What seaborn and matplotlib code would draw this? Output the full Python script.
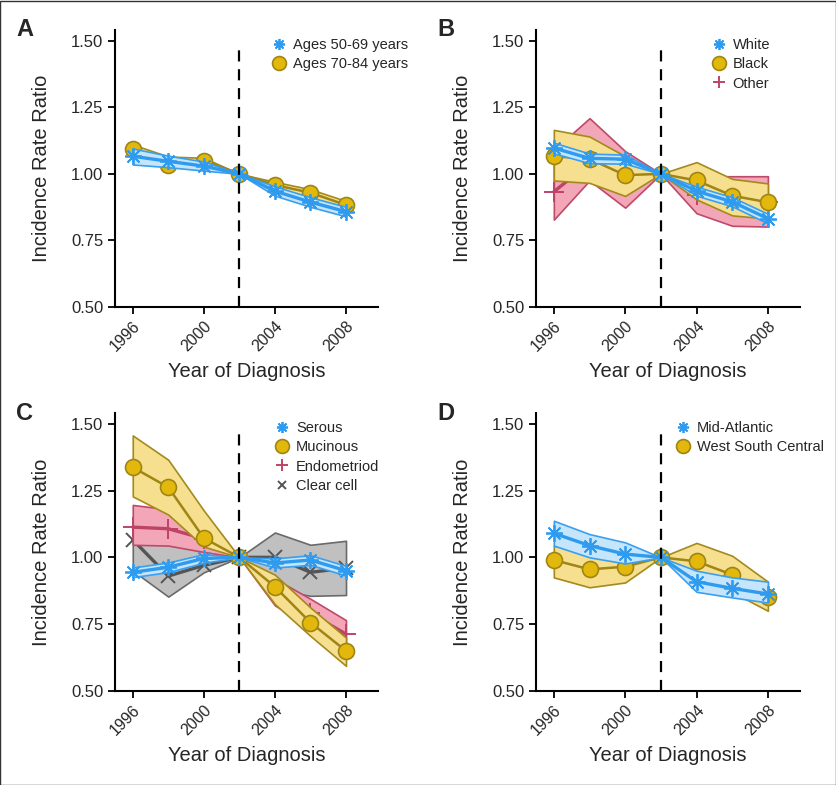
import matplotlib
matplotlib.use("Agg")
import matplotlib.pyplot as plt
from matplotlib.lines import Line2D
from matplotlib.patches import Rectangle
import seaborn as sns
import pandas as pd

# ---------------- data ----------------
years = [1996, 1998, 2000, 2002, 2004, 2006, 2008]
xticks = [1996, 2000, 2004, 2008]
yticks = [0.50, 0.75, 1.00, 1.25, 1.50]

# Panel A
age50_mean = [1.066, 1.047, 1.029, 1.0, 0.935, 0.894, 0.858]
age50_lo = [1.035, 1.025, 1.012, 1.0, 0.918, 0.876, 0.840]
age50_hi = [1.095, 1.068, 1.046, 1.0, 0.953, 0.912, 0.876]
age70_mean = [1.095, 1.035, 1.050, 1.0, 0.958, 0.929, 0.883]
age70_lo = [1.075, 1.025, 1.035, 1.0, 0.945, 0.912, 0.865]
age70_hi = [1.110, 1.065, 1.060, 1.0, 0.970, 0.942, 0.898]

# Panel B
white_mean = [1.097, 1.058, 1.055, 1.0, 0.935, 0.895, 0.832]
white_lo = [1.077, 1.040, 1.038, 1.0, 0.918, 0.878, 0.814]
white_hi = [1.117, 1.076, 1.072, 1.0, 0.952, 0.912, 0.850]
black_mean = [1.066, 1.056, 0.995, 1.0, 0.975, 0.918, 0.893]
black_lo = [0.975, 0.966, 0.917, 1.0, 0.904, 0.844, 0.832]
black_hi = [1.165, 1.140, 1.066, 1.0, 1.044, 0.981, 0.964]
other_mean = [0.933, 1.040, 0.975, 1.0, 0.920, 0.895, 0.895]
other_lo = [0.828, 0.975, 0.873, 1.0, 0.852, 0.805, 0.802]
other_hi = [1.090, 1.209, 1.085, 1.0, 0.990, 0.991, 0.991]

# Panel C
serous_mean = [0.944, 0.963, 0.996, 1.0, 0.979, 0.990, 0.950]
serous_lo = [0.926, 0.945, 0.980, 1.0, 0.962, 0.972, 0.932]
serous_hi = [0.962, 0.981, 1.012, 1.0, 0.996, 1.008, 0.968]
mucinous_mean = [1.337, 1.262, 1.072, 1.0, 0.890, 0.756, 0.650]
mucinous_lo = [1.228, 1.160, 1.040, 1.0, 0.825, 0.706, 0.594]
mucinous_hi = [1.456, 1.365, 1.175, 1.0, 0.935, 0.812, 0.700]
endo_mean = [1.113, 1.107, 1.070, 1.0, 0.870, 0.790, 0.713]
endo_lo = [1.047, 1.044, 1.020, 1.0, 0.820, 0.740, 0.660]
endo_hi = [1.196, 1.180, 1.130, 1.0, 0.920, 0.845, 0.765]
clear_mean = [1.066, 0.930, 0.970, 1.0, 1.000, 0.944, 0.960]
clear_lo = [0.950, 0.853, 0.944, 1.0, 0.880, 0.856, 0.859]
clear_hi = [1.140, 1.100, 1.040, 1.0, 1.093, 1.047, 1.062]

# Panel D
mid_mean = [1.090, 1.044, 1.012, 1.0, 0.909, 0.884, 0.863]
mid_lo = [1.044, 1.000, 0.977, 1.0, 0.871, 0.850, 0.831]
mid_hi = [1.137, 1.087, 1.056, 1.0, 0.950, 0.925, 0.909]
wsc_mean = [0.990, 0.955, 0.965, 1.0, 0.985, 0.935, 0.850]
wsc_lo = [0.925, 0.888, 0.906, 1.0, 0.930, 0.870, 0.800]
wsc_hi = [1.044, 1.020, 1.010, 1.0, 1.054, 1.006, 0.909]

# ---------------- styles ----------------
STY = {
    "blue": dict(line="#2F9BEF", fill="#C4E5FB", edge="#3A9FEF", marker=(8, 2, 0),
                 ms=12, mfc="#2F9BEF", mec="#2F9BEF", lw=2.4, mew=1.3),
    "gold": dict(line="#A08414", fill="#F6E08F", edge="#A48A1C", marker="o",
                 ms=11.5, mfc="#E2B80C", mec="#A08414", lw=1.8, mew=1.2),
    "pink": dict(line="#BE4466", fill="#F2A6B8", edge="#BE4A68", marker="+",
                 ms=14, mfc="#BE4466", mec="#BE4466", lw=2.4, mew=1.4),
    "gray": dict(line="#555555", fill="#C0C0C0", edge="#6A6A6A", marker="x",
                 ms=10, mfc="#555555", mec="#555555", lw=2.4, mew=1.4),
}
LEG_MS = {"blue": 8, "gold": 10, "pink": 9, "gray": 6}

sns.set_style("ticks")
plt.rcParams["font.family"] = ["Liberation Sans", "DejaVu Sans"]

fig = plt.figure(figsize=(8.37, 7.85), dpi=100)
W, H = 837.0, 785.0


def add_axes(left, top, right, bottom):
    return fig.add_axes([left / W, 1 - bottom / H, (right - left) / W, (bottom - top) / H])


axA = add_axes(115, 30, 378, 307)
axB = add_axes(536, 30, 800, 307)
axC = add_axes(115, 413, 378, 691)
axD = add_axes(536, 413, 800, 691)


def series(ax, mean, lo, hi, key, z):
    s = STY[key]
    ax.fill_between(years, lo, hi, facecolor=s["fill"], edgecolor=s["edge"],
                    linewidth=1.2, zorder=z)
    df = pd.DataFrame({"year": years, "irr": mean})
    sns.lineplot(data=df, x="year", y="irr", ax=ax, color=s["line"], lw=s["lw"],
                 marker=s["marker"], markersize=s["ms"], markerfacecolor=s["mfc"],
                 markeredgecolor=s["mec"], markeredgewidth=s["mew"], zorder=z + 0.5)


def style_axes(ax, letter, entries, leg_x):
    ax.set_xlim(1995, 2009.8)
    ax.set_ylim(0.5, 1.54)
    ax.axvline(2002, ymin=0, ymax=(1.466 - 0.5) / 1.04, color="black", lw=1.6,
               ls=(0, (5, 3.5)), zorder=20)
    ax.set_xticks(xticks)
    ax.set_xticklabels([str(t) for t in xticks], rotation=45, ha="right",
                       rotation_mode="anchor", fontsize=11.5)
    ax.set_yticks(yticks)
    ax.set_yticklabels([f"{t:.2f}" for t in yticks], fontsize=12)
    ax.tick_params(axis="both", direction="out", length=5, width=1.3, color="black")
    ax.tick_params(axis="x", pad=3)
    for sp in ("top", "right"):
        ax.spines[sp].set_visible(False)
    for sp in ("left", "bottom"):
        ax.spines[sp].set_linewidth(1.5)
        ax.spines[sp].set_color("black")
    ax.set_xlabel("Year of Diagnosis", fontsize=14.5, labelpad=6)
    ax.set_ylabel("Incidence Rate Ratio", fontsize=14.5, labelpad=14)
    ax.text(-0.375, 1.0, letter, transform=ax.transAxes, fontsize=17,
            fontweight="bold", ha="left", va="center")
    handles = []
    for label, key in entries:
        s = STY[key]
        handles.append(Line2D([], [], ls="none", marker=s["marker"], markersize=LEG_MS[key],
                              markerfacecolor=s["mfc"], markeredgecolor=s["mec"],
                              markeredgewidth=s["mew"], label=label))
    ax.legend(handles=handles, loc="upper left", bbox_to_anchor=(leg_x, 0.97),
              frameon=False, fontsize=10.5, handlelength=1.0, handletextpad=0.45,
              labelspacing=0.35, borderpad=0, borderaxespad=0)


# Panel A
series(axA, age70_mean, age70_lo, age70_hi, "gold", 3)
series(axA, age50_mean, age50_lo, age50_hi, "blue", 5)
style_axes(axA, "A", [("Ages 50-69 years", "blue"), ("Ages 70-84 years", "gold")], 0.597)

# Panel B
series(axB, other_mean, other_lo, other_hi, "pink", 1)
series(axB, black_mean, black_lo, black_hi, "gold", 3)
series(axB, white_mean, white_lo, white_hi, "blue", 5)
style_axes(axB, "B", [("White", "blue"), ("Black", "gold"), ("Other", "pink")], 0.664)

# Panel C
series(axC, clear_mean, clear_lo, clear_hi, "gray", 1)
series(axC, endo_mean, endo_lo, endo_hi, "pink", 2)
series(axC, mucinous_mean, mucinous_lo, mucinous_hi, "gold", 3)
series(axC, serous_mean, serous_lo, serous_hi, "blue", 5)
style_axes(axC, "C", [("Serous", "blue"), ("Mucinous", "gold"),
                      ("Endometriod", "pink"), ("Clear cell", "gray")], 0.608)

# Panel D
series(axD, wsc_mean, wsc_lo, wsc_hi, "gold", 3)
series(axD, mid_mean, mid_lo, mid_hi, "blue", 5)
style_axes(axD, "D", [("Mid-Atlantic", "blue"), ("West South Central", "gold")], 0.528)

fig.patches.append(Rectangle((0.5 / W, 0.5 / H), 1 - 1.5 / W, 1 - 1.5 / H,
                             transform=fig.transFigure, fill=False,
                             edgecolor="#333333", linewidth=1.0))

fig.savefig("out.png", dpi=100)
